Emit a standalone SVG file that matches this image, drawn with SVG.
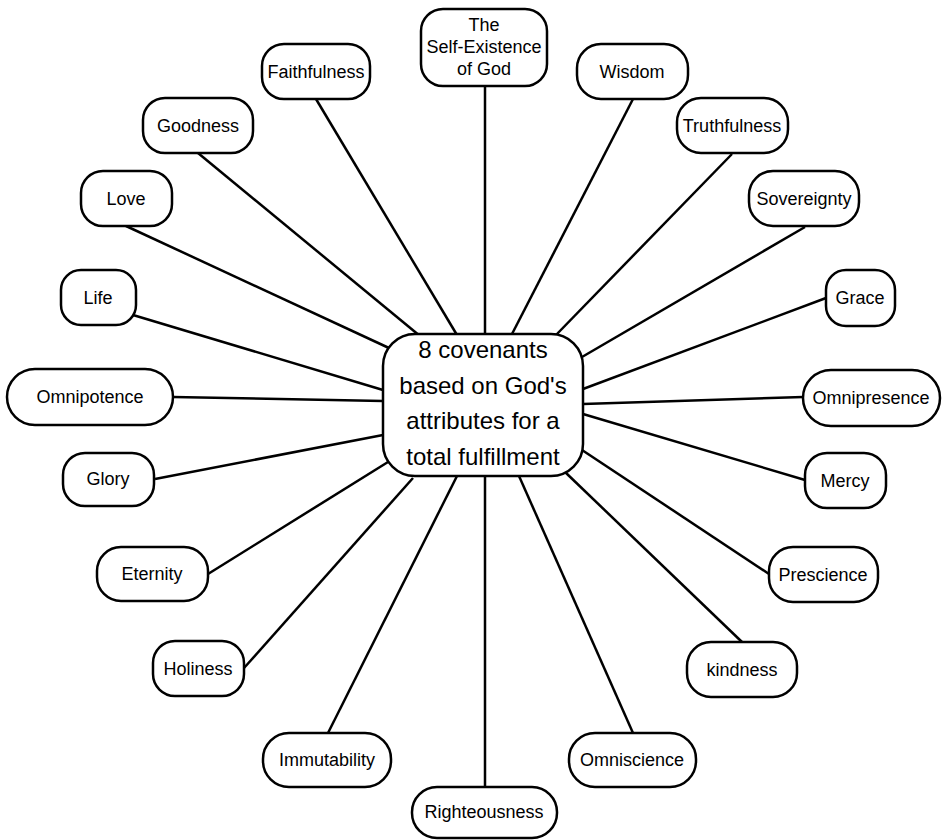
<svg xmlns="http://www.w3.org/2000/svg" width="945" height="840" viewBox="0 0 945 840">
  <style>
    .node rect { fill: #ffffff; stroke: #000000; stroke-width: 2.5; }
    .node text { font-family: "Liberation Sans", Arial, sans-serif; font-size: 18px; fill: #000000; text-anchor: middle; }
    #center text { font-size: 24px; }
    .edges line { stroke: #000000; stroke-width: 2.5; stroke-linecap: butt; }
  </style>
  <rect x="0" y="0" width="945" height="840" fill="#ffffff"/>

  <!-- spokes from the hub to each attribute -->
  <g class="edges" id="connectors">
    <line x1="485" y1="86" x2="485" y2="334"/>
    <line x1="316" y1="99" x2="457" y2="335"/>
    <line x1="198" y1="153" x2="420" y2="336"/>
    <line x1="126" y1="226" x2="389" y2="348"/>
    <line x1="133" y1="315" x2="383" y2="390"/>
    <line x1="173" y1="397" x2="383" y2="401"/>
    <line x1="155" y1="479" x2="383" y2="435"/>
    <line x1="208" y1="574" x2="388" y2="462"/>
    <line x1="244" y1="668" x2="413" y2="478"/>
    <line x1="328" y1="733" x2="457" y2="476"/>
    <line x1="485" y1="787" x2="485" y2="476"/>
    <line x1="633" y1="733" x2="519" y2="476"/>
    <line x1="742" y1="642" x2="565" y2="472"/>
    <line x1="769" y1="574" x2="582" y2="450"/>
    <line x1="805" y1="480" x2="583" y2="414"/>
    <line x1="803" y1="397" x2="583" y2="404"/>
    <line x1="826" y1="298" x2="583" y2="389"/>
    <line x1="805" y1="227" x2="582" y2="357"/>
    <line x1="732" y1="154" x2="556" y2="335"/>
    <line x1="633" y1="99" x2="512" y2="334"/>
  </g>

  <g class="node" id="center">
    <rect x="383" y="334" width="200" height="142" rx="32" ry="32"/>
    <text x="483" y="358">8 covenants</text>
    <text x="483" y="393.5">based on God's</text>
    <text x="483" y="429">attributes for a</text>
    <text x="483" y="464.5">total fulfillment</text>
  </g>

  <g class="node" id="self-existence">
    <rect x="421" y="9" width="126" height="77" rx="22" ry="22"/>
    <text x="484" y="31">The</text>
    <text x="484" y="53">Self-Existence</text>
    <text x="484" y="75">of God</text>
  </g>
  <g class="node" id="faithfulness">
    <rect x="262" y="44" width="108" height="55" rx="22" ry="22"/>
    <text x="316" y="78">Faithfulness</text>
  </g>
  <g class="node" id="goodness">
    <rect x="143" y="98" width="110" height="55" rx="22" ry="22"/>
    <text x="198" y="132">Goodness</text>
  </g>
  <g class="node" id="love">
    <rect x="81" y="171" width="91" height="55" rx="22" ry="22"/>
    <text x="126" y="205">Love</text>
  </g>
  <g class="node" id="life">
    <rect x="61" y="270" width="75" height="55" rx="20" ry="20"/>
    <text x="98" y="304">Life</text>
  </g>
  <g class="node" id="omnipotence">
    <rect x="7" y="369" width="166" height="56" rx="28" ry="28"/>
    <text x="90" y="403">Omnipotence</text>
  </g>
  <g class="node" id="glory">
    <rect x="63" y="453" width="91" height="53" rx="22" ry="22"/>
    <text x="108" y="485">Glory</text>
  </g>
  <g class="node" id="eternity">
    <rect x="97" y="547" width="111" height="54" rx="24" ry="24"/>
    <text x="152" y="580">Eternity</text>
  </g>
  <g class="node" id="holiness">
    <rect x="153" y="641" width="91" height="55" rx="22" ry="22"/>
    <text x="198" y="675">Holiness</text>
  </g>
  <g class="node" id="immutability">
    <rect x="263" y="733" width="128" height="54" rx="26" ry="26"/>
    <text x="327" y="766">Immutability</text>
  </g>
  <g class="node" id="righteousness">
    <rect x="412" y="787" width="145" height="51" rx="25" ry="25"/>
    <text x="484" y="818">Righteousness</text>
  </g>
  <g class="node" id="omniscience">
    <rect x="569" y="733" width="127" height="54" rx="26" ry="26"/>
    <text x="632" y="766">Omniscience</text>
  </g>
  <g class="node" id="kindness">
    <rect x="687" y="642" width="110" height="55" rx="24" ry="24"/>
    <text x="742" y="676">kindness</text>
  </g>
  <g class="node" id="prescience">
    <rect x="769" y="547" width="109" height="55" rx="24" ry="24"/>
    <text x="823" y="581">Prescience</text>
  </g>
  <g class="node" id="mercy">
    <rect x="805" y="453" width="81" height="55" rx="22" ry="22"/>
    <text x="845" y="487">Mercy</text>
  </g>
  <g class="node" id="omnipresence">
    <rect x="803" y="370" width="137" height="56" rx="28" ry="28"/>
    <text x="871" y="404">Omnipresence</text>
  </g>
  <g class="node" id="grace">
    <rect x="826" y="270" width="69" height="56" rx="20" ry="20"/>
    <text x="860" y="304">Grace</text>
  </g>
  <g class="node" id="sovereignty">
    <rect x="749" y="171" width="110" height="55" rx="24" ry="24"/>
    <text x="804" y="205">Sovereignty</text>
  </g>
  <g class="node" id="truthfulness">
    <rect x="677" y="98" width="111" height="55" rx="24" ry="24"/>
    <text x="732" y="132">Truthfulness</text>
  </g>
  <g class="node" id="wisdom">
    <rect x="577" y="44" width="111" height="55" rx="24" ry="24"/>
    <text x="632" y="78">Wisdom</text>
  </g>
</svg>
